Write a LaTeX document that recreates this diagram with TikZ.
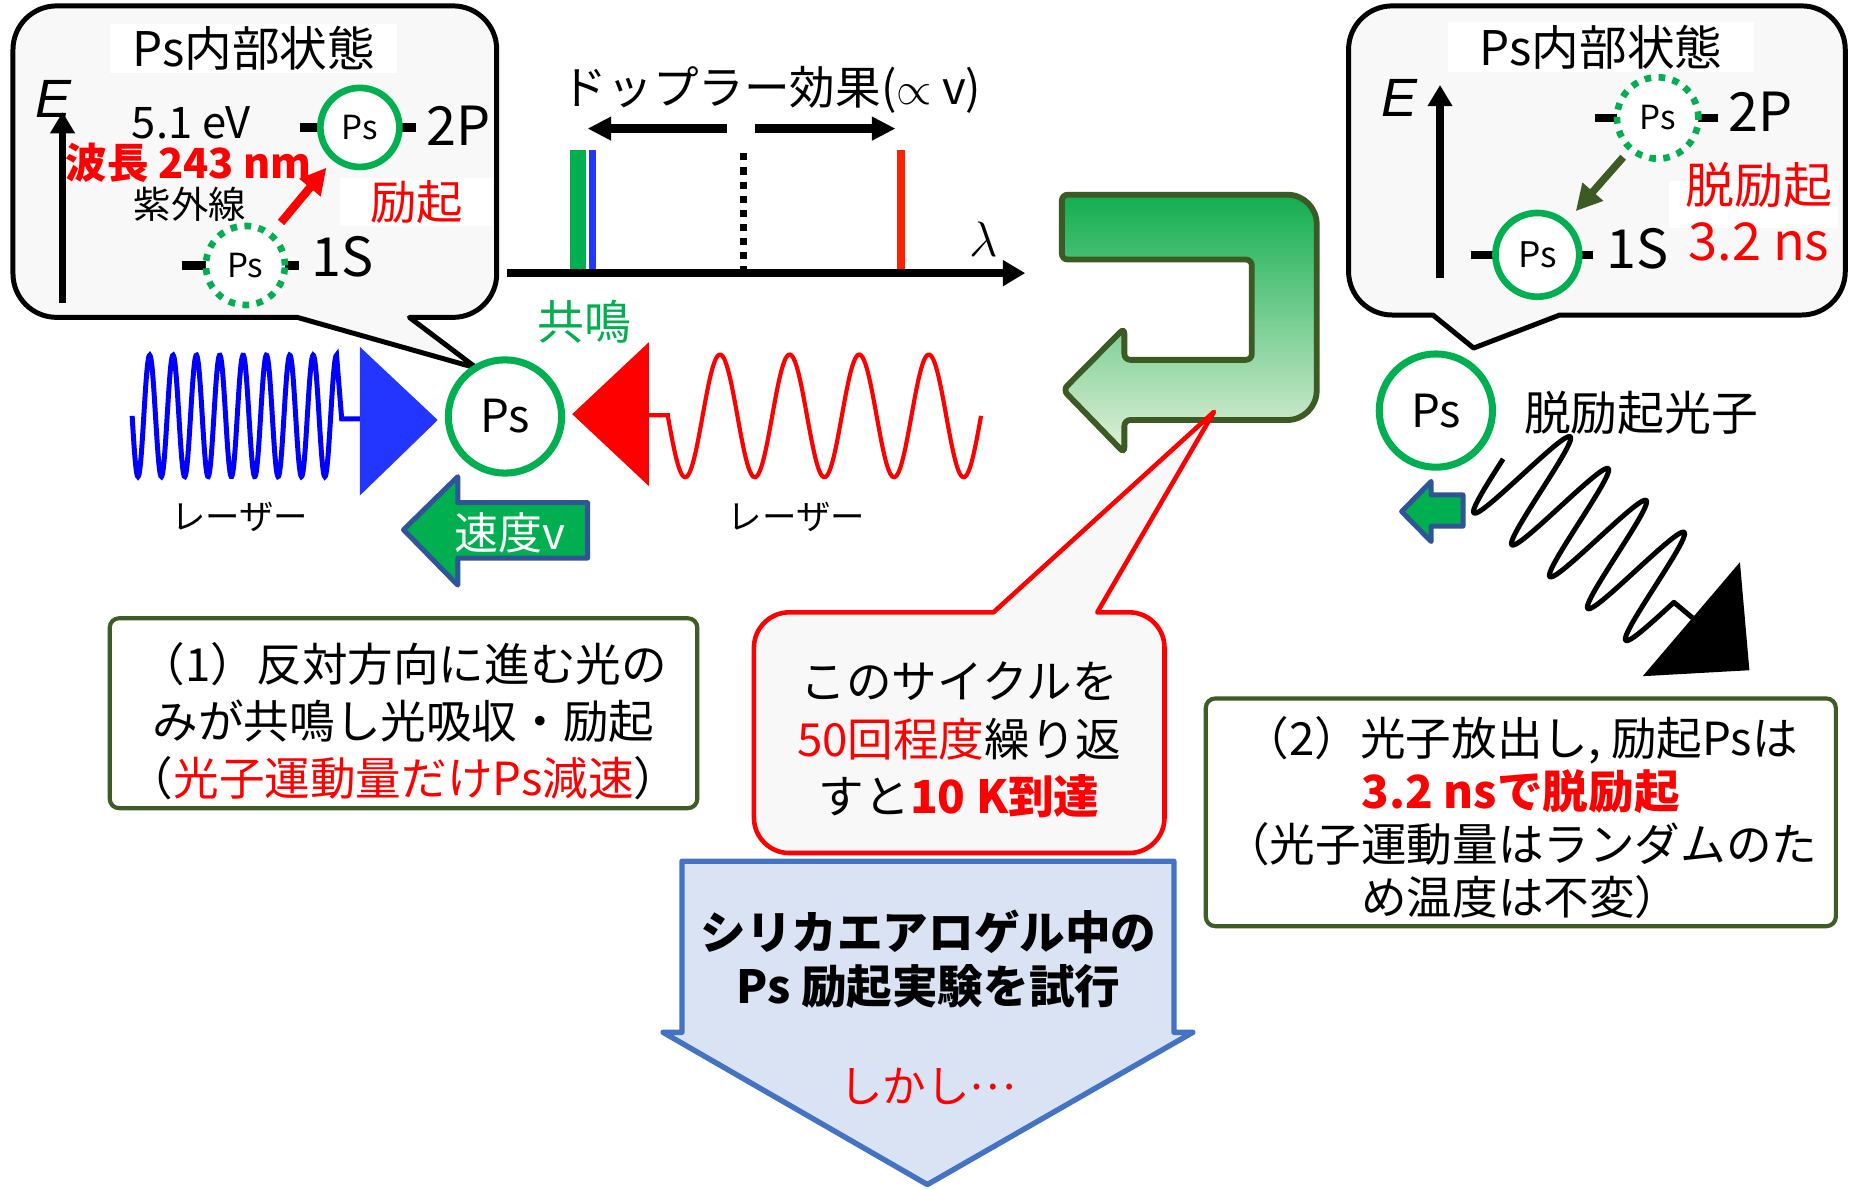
\documentclass[tikz,border=0pt]{standalone}
\usepackage{fontspec}
\setmainfont{Noto Sans CJK JP}
\newfontfamily\latinsans{Liberation Sans}
\usetikzlibrary{arrows.meta}

\definecolor{psgreen}{HTML}{00B050}
\definecolor{bubblegray}{HTML}{F8F8F8}
\definecolor{boxgreen}{HTML}{3E5C26}
\definecolor{darkolive}{HTML}{3B5A24}
\definecolor{lasblue}{HTML}{0000FF}
\definecolor{triblue}{HTML}{2236FF}
\definecolor{velblue}{HTML}{2F5597}
\definecolor{uptop}{HTML}{12AE50}
\definecolor{upbottom}{HTML}{E2F0D9}
\definecolor{downfill}{HTML}{DAE3F3}
\definecolor{downline}{HTML}{4472C4}
\definecolor{barred}{HTML}{FF2200}

\newcommand\fsz[2]{\fontsize{#1}{#2}\selectfont}

\begin{document}
\begin{tikzpicture}[
    x=0.1mm, y=-0.1mm,
    bubble/.style={draw, line width=1.2pt, fill=bubblegray, line join=round},
    title/.style={fill=white, minimum width=#1, minimum height=4.2mm, inner sep=0pt, font=\fsz{11.5}{11.5}},
    lvl/.style={line width=2pt},
    psring/.style={circle, draw=psgreen, fill=white, inner sep=0pt},
    psbig/.style={psring, line width=1.7pt, minimum size=9.6mm, font=\fsz{11}{11}},
    pssmall/.style={psring, line width=1.6pt, minimum size=6.7mm, font=\fsz{8}{8}},
    psdots/.style={dash pattern=on 1.6pt off 1.8pt},
    eaxis/.style={-{Triangle[length=1.8mm, width=2mm]}, line width=1.8pt},
    darrow/.style={-{Triangle[length=2mm, width=1.9mm]}, line width=2pt},
    excite/.style={red, line width=2pt, -{Triangle[length=2.2mm, width=2.2mm]}, shorten <=1.1mm, shorten >=0.8mm},
    relax/.style={darkolive, line width=1.8pt, -{Triangle[length=2.2mm, width=2.2mm]}, shorten <=0.7mm, shorten >=1.1mm},
    level/.style={font=\fsz{13}{13}},
    velarrow/.style={draw=velblue, fill=psgreen, line width=1.2pt, line join=round},
    boxline/.style={draw=boxgreen, line width=1pt, rounded corners=0.8mm, fill=white},
    boxtext/.style={align=center, inner sep=0pt, font=\fsz{11}{13.7}},
  ]
  \fill[white] (0,0) rectangle (1568,1007);
  \useasboundingbox (0,0) rectangle (1568,1007);

  \draw[bubble] (404,312) -- (347,269) [rounded corners=3.7mm] -- (421,269) -- (421,5) -- (11,5) -- (11,269) [sharp corners] -- (252,269) -- cycle;
  \node[title=24.3mm] (titleL) at (215,41) {Ps内部状態};
  \node[font=\fsz{13}{13}\latinsans\itshape] (EL) at (45,84) {E};
  \coordinate (eL0) at (53,257);
  \coordinate (eL1) at (53,95);
  \draw[eaxis] (eL0) -- (eL1);
  \coordinate (c2L) at (305,108);
  \coordinate (c1L) at (208,225);
  \draw[lvl] ([xshift=-5.1mm]c2L) -- ([xshift=4.8mm]c2L);
  \draw[lvl] ([xshift=-5.4mm]c1L) -- ([xshift=4.5mm]c1L);
  \node[pssmall] (p2L) at (c2L) {Ps};
  \node[pssmall, psdots] (s1L) at (c1L) {Ps};
  \node[level] (t2L) at (389,107) {2P};
  \node[level] (t1L) at (290,218) {1S};
  \node[font=\fsz{10.5}{10.5}] (evL) at (162,104) {5.1 eV};
  \node[text=red, font=\bfseries\fsz{10}{10}] (wlL) at (160,138) {波長 243 nm};
  \node[font=\fsz{9}{9}] (uvL) at (161,173) {紫外線};
  \node[fill=white, minimum width=13mm, minimum height=4.1mm, inner sep=0pt, text=red, font=\fsz{11.2}{11.2}] (excL) at (353,171) {励起};
  \draw[excite] (s1L) -- (p2L);

  \node[font=\fsz{11}{11}] (dopp) at (654,76) {ドップラー効果($\propto$ $\mathrm{v}$)};
  \coordinate (dl0) at (616,109);
  \coordinate (dl1) at (498,109);
  \coordinate (dr0) at (640,109);
  \coordinate (dr1) at (759,109);
  \draw[darrow] (dl0) -- (dl1);
  \draw[darrow] (dr0) -- (dr1);
  \draw[line width=4pt, psgreen] (490,127) -- (490,231);
  \draw[line width=1.7pt, triblue] (502.5,127) -- (502.5,231);
  \draw[line width=1.8pt, dash pattern=on 1.7pt off 1.7pt] (630,130) -- (630,231);
  \draw[line width=2pt, barred] (763.5,127) -- (763.5,231);
  \coordinate (lam0) at (430,231.5);
  \coordinate (lam1) at (869,231.5);
  \draw[-{Triangle[length=1.9mm, width=2.1mm]}, line width=2pt] (lam0) -- (lam1);
  \node[font=\fsz{13}{13}] (lam) at (834,203) {$\lambda$};

  \draw[draw=darkolive, line width=1.4pt, top color=uptop, bottom color=upbottom]
    (900,220) [rounded corners=0.5mm] -- (900,165) -- (1000,165) [rounded corners=2.5mm] -- (1116,165) -- (1116,356) -- (1050,356) [rounded corners=0.5mm] -- (953,356) -- (953,384) -- (901,330.5) -- (953,278) -- (953,305) -- (1061,305) -- (1061,220) -- cycle;

  \draw[lasblue, line width=1.2pt] plot[domain=0:3150, samples=350] ({112+\x/360*19.8}, {352.5+51.5*sin(\x)}) -- (289.6,355) -- (305,355);
  \fill[triblue] (305,294) -- (371,356) -- (305,420) -- cycle;
  \node[psbig] (psL) at (428,353) {Ps};
  \fill[red] (550,290) -- (485,351) -- (550,412) -- cycle;
  \draw[red, line width=1pt] (550,352) -- (566,352) -- plot[domain=0:1620, samples=250] ({566+\x/360*59}, {352.5+52*sin(\x)});
  \node[text=psgreen, font=\fsz{11.3}{11.3}] (reson) at (495,273) {共鳴};
  \node[font=\fsz{8.3}{8.3}] (lasL) at (203,438) {レーザー};
  \node[font=\fsz{8.3}{8.3}] (lasR) at (675,438) {レーザー};
  \draw[velarrow] (498,426) -- (388,426) -- (388,404) -- (342,449) -- (388,496) -- (388,473) -- (498,473) -- cycle;
  \node[text=white, font=\fsz{10.6}{10.6}] (vel) at (432,452) {速度v};

  \draw[bubble] (1249,295) -- (1322,267) [rounded corners=3.7mm] -- (1564,267) -- (1564,5) -- (1143,5) -- (1143,267) [sharp corners] -- (1214.5,267) -- cycle;
  \node[title=25.9mm] (titleR) at (1357,40) {Ps内部状態};
  \node[font=\fsz{13}{13}\latinsans\itshape] (ER) at (1186,83) {E};
  \coordinate (eR0) at (1220.5,236);
  \coordinate (eR1) at (1220.5,72);
  \draw[eaxis] (eR0) -- (eR1);
  \coordinate (c2R) at (1405,100);
  \coordinate (c1R) at (1303,216);
  \draw[lvl] ([xshift=-5.3mm]c2R) -- ([xshift=5.1mm]c2R);
  \draw[lvl] ([xshift=-5.6mm]c1R) -- ([xshift=4.7mm]c1R);
  \node[pssmall, psdots, minimum size=6.9mm] (p2R) at (c2R) {Ps};
  \node[pssmall, minimum size=7.1mm, font=\fsz{8.5}{8.5}] (s1R) at (c1R) {Ps};
  \node[level] (t2R) at (1492,95) {2P};
  \node[level] (t1R) at (1388,211) {1S};
  \fill[white] (1415,153) rectangle (1558,193);
  \node[text=red, font=\fsz{11.8}{11.8}] (decR) at (1491,157) {脱励起};
  \node[text=red, font=\fsz{12.6}{12.6}] (lifeR) at (1491,205) {3.2 ns};
  \draw[relax] (p2R) -- (s1R);

  \node[psbig] (psR) at (1217,348) {Ps};
  \node[font=\fsz{11.3}{11.3}] (phot) at (1391,350) {脱励起光子};
  \draw[velarrow] (1240,419.5) -- (1213,419.5) -- (1213,408) -- (1188,433.6) -- (1213,459) -- (1213,446) -- (1240,446) -- cycle;
  \begin{scope}[shift={(1274,389)}, rotate=-40]
    \draw[line width=1.2pt, line join=round] plot[domain=0:1620, samples=300] ({\x/360*42}, {51*sin(\x)}) -- (209.5,0);
    \fill (210,-62) -- (275,3) -- (209,65) -- cycle;
  \end{scope}

  \draw[boxline] (93,524) rectangle (591,685);
  \node[boxtext] (box1) at (342,611)
    {（1）反対方向に進む光の\\みが共鳴し光吸収・励起\\（\textcolor{red}{光子運動量だけPs減速}）};
  \draw[boxline] (1022,592) rectangle (1556,785);
  \node[boxtext, font=\fsz{11}{12.8}] (box2) at (1289,693)
    {（2）光子放出し, 励起Psは\\\textcolor{red}{\bfseries 3.2 nsで脱励起}\\（光子運動量はランダムのた\\め温度は不変）};

  \draw[line width=1.1pt, draw=red, fill=bubblegray, line join=round] (1029,349) -- (930,519) [rounded corners=3mm] -- (987,519) -- (987,723) -- (639,723) -- (639,519) [sharp corners] -- (842,519) -- cycle;
  \node[align=center, font=\fsz{11}{13.8}] (cyc) at (813,627)
    {このサイクルを\\\textcolor{red}{50回程度}繰り返\\すと\textcolor{red}{\bfseries 10 K到達}};

  \draw[line width=1.3pt, draw=downline, fill=downfill, line join=round] (578,730) -- (995,730) -- (995,875) -- (1011,875) -- (786,1004) -- (562,875) -- (578,875) -- cycle;
  \node[align=center, font=\bfseries\fsz{11}{13.1}] (trial) at (787,813) {シリカエアロゲル中の\\Ps 励起実験を試行};
  \node[text=red, font=\fsz{10.5}{10.5}] (but) at (786,921) {しかし\raisebox{0.3em}{…}};
\end{tikzpicture}
\end{document}
